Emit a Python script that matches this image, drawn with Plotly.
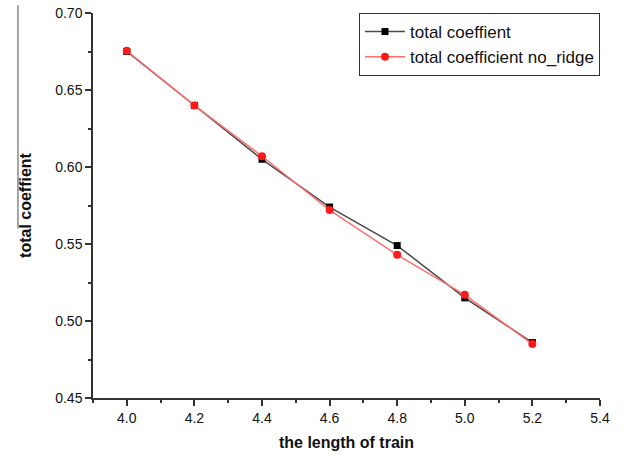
import plotly.graph_objects as go

x_vals = [4.0, 4.2, 4.4, 4.6, 4.8, 5.0, 5.2]
total_coeffient = [0.675, 0.640, 0.605, 0.574, 0.549, 0.515, 0.486]
total_no_ridge = [0.6755, 0.640, 0.607, 0.572, 0.543, 0.517, 0.485]
x_ticks = [4.0, 4.2, 4.4, 4.6, 4.8, 5.0, 5.2, 5.4]
y_ticks = [0.45, 0.50, 0.55, 0.60, 0.65, 0.70]

FONT = "Liberation Sans, Arial"

fig = go.Figure()
fig.add_trace(go.Scatter(
    x=x_vals, y=total_coeffient, mode="lines+markers", name="total coeffient",
    line=dict(color="#4a4a4a", width=1.5),
    marker=dict(symbol="square", size=7, color="#000000"),
))
fig.add_trace(go.Scatter(
    x=x_vals, y=total_no_ridge, mode="lines+markers", name="total coefficient no_ridge",
    line=dict(color="#ff7070", width=1.5),
    marker=dict(symbol="circle", size=8, color="#ff1a1a"),
))

axis_common = dict(
    showline=True, linecolor="#333333", linewidth=1.5,
    ticks="outside", tickcolor="#333333", ticklen=6, tickwidth=1.5,
    showgrid=False, zeroline=False, automargin=False,
    tickfont=dict(family=FONT, size=14, color="#111111"),
)

fig.update_xaxes(
    range=[3.9, 5.4], tickvals=x_ticks, tickformat=".1f",
    minor=dict(ticks="outside", ticklen=3, dtick=0.1, tick0=3.9, tickcolor="#333333", tickwidth=1.5),
    title=dict(text="<b>the length of train</b>", font=dict(family=FONT, size=16, color="#111111"), standoff=12),
    **axis_common,
)
fig.update_yaxes(
    range=[0.45, 0.70], tickvals=y_ticks, tickformat=".2f",
    minor=dict(ticks="outside", ticklen=3, dtick=0.025, tick0=0.45, tickcolor="#333333", tickwidth=1.5),
    title=dict(text="<b>total coeffient</b>", font=dict(family=FONT, size=16, color="#111111"), standoff=20),
    **axis_common,
)

fig.add_shape(type="line", xref="paper", yref="paper",
              x0=-0.148, x1=-0.148, y0=0.44, y1=1.02,
              line=dict(color="#888888", width=1.5))

fig.update_layout(
    width=632, height=458,
    margin=dict(l=93, r=32, t=13, b=60),
    plot_bgcolor="white", paper_bgcolor="white",
    showlegend=True,
    legend=dict(
        x=1.0, y=1.0, xanchor="right", yanchor="top",
        bordercolor="#333333", borderwidth=1, bgcolor="white",
        font=dict(family=FONT, size=17, color="#111111"),
        tracegroupgap=0, itemwidth=40,
    ),
)

fig.write_html("out.html")
